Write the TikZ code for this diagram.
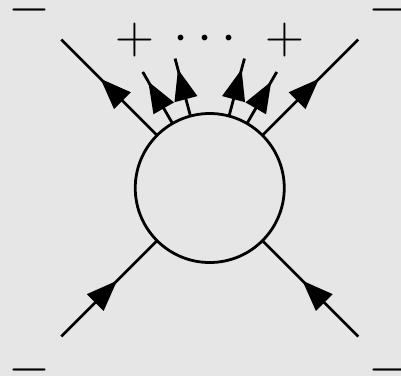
\documentclass[tikz,border=0pt]{standalone}
\usepackage{fix-cm}
\usetikzlibrary{arrows.meta,decorations.markings,calc}
\definecolor{bg}{RGB}{230,230,230}
\begin{document}
\begin{tikzpicture}[x=1pt,y=1pt,
  wire/.style={line width=2.8pt},
  arrowat/.style={postaction={decorate},decoration={markings,mark=at position #1 with {\arrow{Triangle[length=31pt,width=23pt]}}}},
  sign/.style={font=\fontsize{54}{60}\selectfont, inner sep=0pt}]
\fill[bg] (0,-376) rectangle (401,0);
\useasboundingbox (0,-376) rectangle (401,0);
\node[circle, draw, line width=2.8pt, minimum size=149pt, inner sep=0pt, outer sep=0pt] (blob) at (209.75,-188) {};
% outer legs
\coordinate (tl) at ($(blob.center)+(135:210)$);
\coordinate (tr) at ($(blob.center)+(45:210)$);
\coordinate (bl) at ($(blob.center)+(225:210)$);
\coordinate (br) at ($(blob.center)+(315:210)$);
\draw[wire, arrowat=80pt] (blob.135) -- (tl);
\draw[wire, arrowat=80pt] (blob.45) -- (tr);
\draw[wire, arrowat=79pt] (bl) -- (blob.225);
\draw[wire, arrowat=79pt] (br) -- (blob.315);
% inner legs
\coordinate (i1) at ($(blob.center)+(120:134)$);
\coordinate (i2) at ($(blob.center)+(105:134)$);
\coordinate (i3) at ($(blob.center)+(75:134)$);
\coordinate (i4) at ($(blob.center)+(60:134)$);
\draw[wire, arrowat=48.5pt] (blob.120) -- (i1);
\draw[wire, arrowat=48.5pt] (blob.105) -- (i2);
\draw[wire, arrowat=48.5pt] (blob.75) -- (i3);
\draw[wire, arrowat=48.5pt] (blob.60) -- (i4);
% signs
\node[sign] (mtl) at (29.5,-10) {$-$};
\node[sign] (mtr) at (389.5,-10) {$-$};
\node[sign] (mbl) at (29.5,-370) {$-$};
\node[sign] (mbr) at (389.5,-370) {$-$};
\node[sign] (pl) at (134.7,-39.5) {$+$};
\node[sign] (pr) at (285,-39.5) {$+$};
\node[sign] (dots) at (205.3,-39) {$\cdots$};
\end{tikzpicture}
\end{document}
